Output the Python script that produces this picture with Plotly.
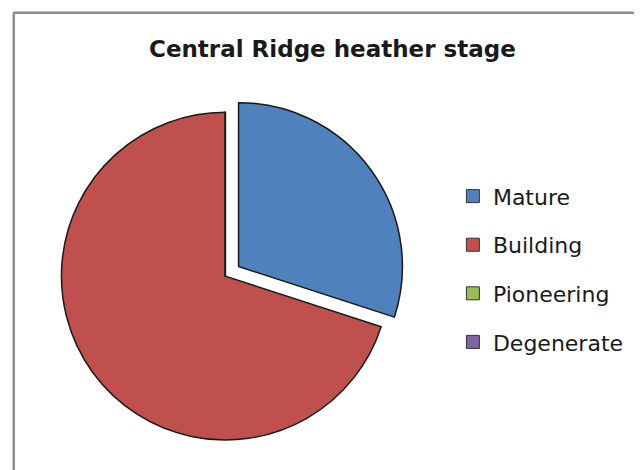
import plotly.graph_objects as go

stages = ["Mature", "Building", "Pioneering", "Degenerate"]
shares = [30, 70, 0, 0]
colors = ["#4F81BD", "#C0504D", "#9BBB59", "#8064A2"]
pulls = [0.1, 0, 0, 0]

fig = go.Figure()
fig.add_trace(
    go.Pie(
        labels=stages,
        values=shares,
        sort=False,
        direction="clockwise",
        rotation=0,
        pull=pulls,
        textinfo="none",
        hoverinfo="label+percent",
        showlegend=False,
        marker=dict(colors=colors, line=dict(color="#1a1a1a", width=1.5)),
        domain=dict(x=[0.057, 0.620], y=[0.046, 0.813]),
    )
)

# legend entries, one group each so the spacing can be opened up
for stage, color in zip(stages, colors):
    fig.add_trace(
        go.Scatter(
            x=[None], y=[None], mode="markers", name=stage, legendgroup=stage,
            marker=dict(symbol="square", size=13, color=color,
                        line=dict(color="#333333", width=1)),
        )
    )

fig.update_layout(
    width=642,
    height=470,
    margin=dict(l=0, r=0, t=0, b=0),
    paper_bgcolor="white",
    plot_bgcolor="white",
    xaxis=dict(visible=False),
    yaxis=dict(visible=False),
    font=dict(family="DejaVu Sans, sans-serif", color="#1a1a1a"),
    annotations=[
        dict(
            text="<b>Central Ridge heather stage</b>",
            x=0.505, y=0.913, xref="paper", yref="paper",
            xanchor="center", yanchor="middle",
            showarrow=False, font=dict(size=23),
        )
    ],
    legend=dict(
        x=0.693, y=0.444, xanchor="left", yanchor="middle",
        font=dict(size=22),
        itemwidth=30,
        tracegroupgap=17,
        bgcolor="rgba(0,0,0,0)",
    ),
    shapes=[
        dict(type="line", xref="paper", yref="paper", x0=0.009, x1=0.009, y0=0.004, y1=0.99,
             line=dict(color="#8c8c8c", width=2.5)),
        dict(type="line", xref="paper", yref="paper", x0=0.008, x1=1.0, y0=0.99, y1=0.99,
             line=dict(color="#8c8c8c", width=2.5)),
        dict(type="line", xref="paper", yref="paper", x0=0.998, x1=0.998, y0=0.004, y1=0.99,
             line=dict(color="#e6e6e6", width=1.5)),
        dict(type="line", xref="paper", yref="paper", x0=0.009, x1=0.998, y0=0.004, y1=0.004,
             line=dict(color="#e6e6e6", width=1.5)),
    ],
)

fig.write_html("out.html")
